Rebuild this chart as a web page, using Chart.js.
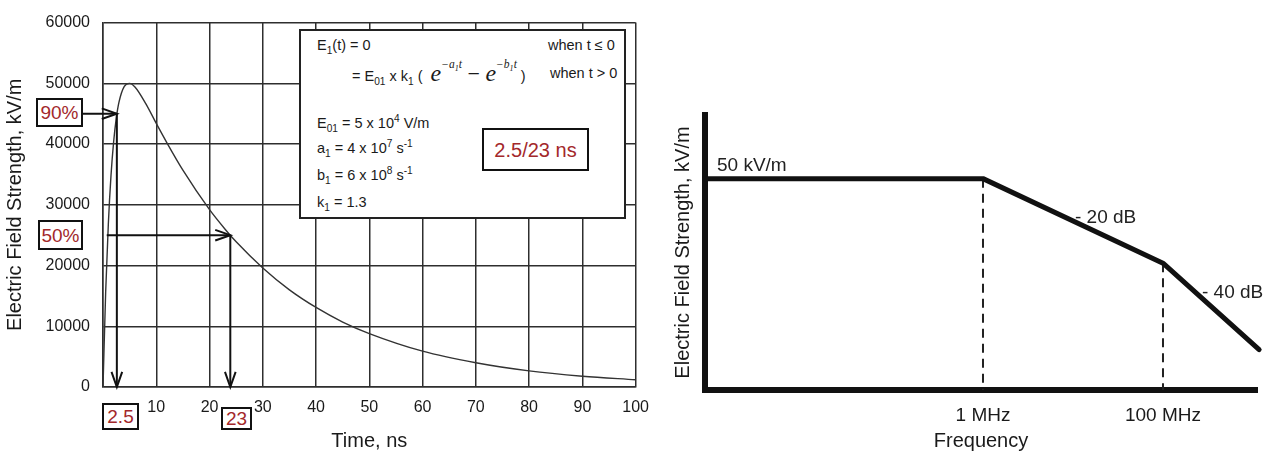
<!DOCTYPE html>
<html>
<head>
<meta charset="utf-8">
<script src="https://cdn.jsdelivr.net/npm/chart.js@4.4.0/dist/chart.umd.min.js"></script>
<style>
  body { margin: 0; background: #fff; font-family: "Liberation Sans", Arial, sans-serif; color: #222; }
  #page { position: relative; width: 1280px; height: 462px; overflow: hidden; }
  .wrap { position: absolute; top: 0; height: 462px; }
  #left { left: 0; width: 660px; }
  #right { left: 660px; width: 620px; }
  .tag { position: absolute; box-sizing: border-box; border: 2px solid #111; background: #fff; color: #a3282b;
         font-size: 19px; line-height: 1; display: flex; align-items: center; justify-content: center; }
  .note { position: absolute; font-size: 19px; line-height: 1; color: #222; white-space: nowrap; }
  #formula { position: absolute; left: 299px; top: 29px; width: 327px; height: 190px; box-sizing: border-box;
             border: 2px solid #222; background: #fff; font-size: 14.5px; color: #1a1a1a; }
  #formula div { position: absolute; white-space: nowrap; line-height: 16px; }
  sub, sup { font-size: 70%; line-height: 0; }
  .e { font-family: "Liberation Serif", "Times New Roman", serif; font-style: italic; font-size: 24px; }
  .e sup { font-size: 48%; vertical-align: 1.1em; }
  .minus { font-family: "Liberation Serif", "Times New Roman", serif; font-size: 22px; }
</style>
</head>
<body>
<div id="page">
  <div class="wrap" id="left"><canvas id="pulseChart"></canvas></div>
  <div class="wrap" id="right"><canvas id="spectrumChart"></canvas></div>

  <div id="formula">
    <div style="left:16px; top:6px;">E<sub>1</sub>(t) = 0</div>
    <div style="left:247px; top:6px;">when t ≤ 0</div>
    <div style="left:51px; top:30px; line-height:24px;">= E<sub>01</sub> x k<sub>1</sub> (&nbsp;&nbsp;<span class="e">e<sup>−a<sub>1</sub>t</sup></span><span class="minus"> − </span><span class="e">e<sup>−b<sub>1</sub>t</sup></span> )</div>
    <div style="left:249px; top:34px;">when t &gt; 0</div>
    <div style="left:16px; top:84px;">E<sub>01</sub> = 5 x 10<sup>4</sup> V/m</div>
    <div style="left:16px; top:109px;">a<sub>1</sub> = 4 x 10<sup>7</sup> s<sup>-1</sup></div>
    <div style="left:16px; top:136px;">b<sub>1</sub> = 6 x 10<sup>8</sup> s<sup>-1</sup></div>
    <div style="left:16px; top:163px;">k<sub>1</sub> = 1.3</div>
  </div>
  <div class="tag" style="left:482px; top:128px; width:107px; height:43px; font-size:20px;">2.5/23 ns</div>

  <div class="tag" style="left:36px; top:98px; width:47px; height:29px;">90%</div>
  <div class="tag" style="left:38px; top:220px; width:45px; height:30px;">50%</div>
  <div class="tag" style="left:102px; top:403px; width:37px; height:27px;">2.5</div>
  <div class="tag" style="left:221px; top:407px; width:31px; height:23px;">23</div>

  <div class="note" style="left:717px; top:155px;">50 kV/m</div>
  <div class="note" style="left:1075px; top:207px;">- 20 dB</div>
  <div class="note" style="left:1202px; top:282px;">- 40 dB</div>
</div>

<script>
// pulse
const timeNs = [0, 0.5, 1, 1.5, 2, 2.5, 3, 4, 5, 6, 8, 10, 12, 15, 20, 23, 25, 30, 35, 40, 45, 50, 60, 70, 80, 90, 100];
const fieldKV = [0, 15600, 26800, 34800, 40400, 44300, 46900, 49500, 50000, 49400, 46700, 43400, 40200, 35700,
                 29200, 25900, 23900, 19600, 16000, 13100, 10700, 8800, 5900, 4000, 2650, 1780, 1190];
const timeTickLabels = ['', '10', '20', '30', '40', '50', '60', '70', '80', '90', '100'];
const fieldTickLabels = ['0', '10000', '20000', '30000', '40000', '50000', '60000'];

// 90% / 50% markers (time in ns, field in kV/m)
const markerArrows = [
    { from: [-4.5, 45000], to: [2.6, 45000] },
    { from: [2.6, 45000], to: [2.6, 0] },
    { from: [0.7, 25000], to: [23.9, 25000] },
    { from: [23.9, 25000], to: [23.9, 0] }
];

// spectrum envelope, right plot
const freqHz = [815, 1e6, 1e8, 1.17e9];
const spectrumKV = [50, 50, 0.5, 0.0045];
const freqTicks = [1e6, 1e8];
const freqTickLabels = ['1 MHz', '100 MHz'];
const cornerLevels = [50, 0.5];

Chart.defaults.font.family = '"Liberation Sans", Arial, sans-serif';
Chart.defaults.color = '#1a1a1a';
Chart.defaults.animation = false;

const arrowPlugin = {
    id: 'arrows',
    afterDatasetsDraw(chart) {
        const ctx = chart.ctx;
        const xs = chart.scales.x, ys = chart.scales.y;
        ctx.save();
        ctx.strokeStyle = '#111';
        ctx.lineWidth = 2;
        markerArrows.forEach(function (a) {
            const x1 = xs.getPixelForValue(a.from[0]), y1 = ys.getPixelForValue(a.from[1]);
            const x2 = xs.getPixelForValue(a.to[0]), y2 = ys.getPixelForValue(a.to[1]);
            ctx.beginPath();
            ctx.moveTo(x1, y1);
            ctx.lineTo(x2, y2);
            ctx.stroke();
            const ang = Math.atan2(y2 - y1, x2 - x1);
            const len = 16, spread = 0.34;
            ctx.beginPath();
            ctx.moveTo(x2 - len * Math.cos(ang - spread), y2 - len * Math.sin(ang - spread));
            ctx.lineTo(x2, y2);
            ctx.lineTo(x2 - len * Math.cos(ang + spread), y2 - len * Math.sin(ang + spread));
            ctx.stroke();
        });
        ctx.restore();
    }
};

new Chart(document.getElementById('pulseChart'), {
    type: 'line',
    data: {
        datasets: [{
            data: timeNs.map((t, i) => ({ x: t, y: fieldKV[i] })),
            borderColor: '#333',
            borderWidth: 1.4,
            pointRadius: 0,
            cubicInterpolationMode: 'monotone'
        }]
    },
    options: {
        responsive: true,
        maintainAspectRatio: false,
        layout: { padding: { top: 22, right: 24, left: 0, bottom: 0 } },
        plugins: { legend: { display: false }, tooltip: { enabled: false } },
        scales: {
            x: {
                type: 'linear',
                min: 0,
                max: 100,
                ticks: {
                    stepSize: 10,
                    padding: 11,
                    maxRotation: 0,
                    font: { size: 16 },
                    callback: (v, i) => timeTickLabels[i]
                },
                grid: { color: '#2e2e2e', lineWidth: 1.5, drawTicks: false },
                border: { color: '#2e2e2e', width: 1.5 },
                title: { display: true, text: 'Time, ns', font: { size: 20 }, padding: { top: 0, bottom: 9 } },
                afterFit: s => { s.height = 75; }
            },
            y: {
                min: 0,
                max: 60000,
                ticks: {
                    stepSize: 10000,
                    padding: 13,
                    font: { size: 16 },
                    callback: (v, i) => fieldTickLabels[i]
                },
                grid: { color: '#2e2e2e', lineWidth: 1.5, drawTicks: false },
                border: { color: '#2e2e2e', width: 1.5 },
                title: { display: true, text: 'Electric Field Strength, kV/m', font: { size: 20 }, padding: { top: 3, bottom: 0 } },
                afterFit: s => { s.width = 103; }
            }
        }
    },
    plugins: [arrowPlugin]
});

new Chart(document.getElementById('spectrumChart'), {
    type: 'line',
    data: {
        datasets: [{
            data: freqHz.map((f, i) => ({ x: f, y: spectrumKV[i] })),
            borderColor: '#111',
            borderWidth: 5,
            borderJoinStyle: 'round',
            borderCapStyle: 'round',
            pointRadius: 0,
            clip: false
        }].concat(freqTicks.map((f, i) => ({
            data: [{ x: f, y: cornerLevels[i] }, { x: f, y: 5e-4 }],
            borderColor: '#222',
            borderWidth: 2,
            borderDash: [9, 6],
            pointRadius: 0
        })))
    },
    options: {
        responsive: true,
        maintainAspectRatio: false,
        layout: { padding: { top: 115, right: 23, left: 0, bottom: 0 } },
        plugins: { legend: { display: false }, tooltip: { enabled: false } },
        scales: {
            x: {
                type: 'logarithmic',
                min: 815,
                max: 1.108e9,
                afterBuildTicks: s => { s.ticks = freqTicks.map(v => ({ value: v })); },
                ticks: {
                    autoSkip: false,
                    maxRotation: 0,
                    padding: 6,
                    font: { size: 19 },
                    callback: (v, i) => freqTickLabels[i]
                },
                grid: { display: false },
                border: { color: '#111', width: 6 },
                title: { display: true, text: 'Frequency', font: { size: 20 }, padding: { top: 0, bottom: 9 } },
                afterFit: s => { s.height = 72; }
            },
            y: {
                type: 'logarithmic',
                min: 5e-4,
                max: 1600,
                ticks: { display: false },
                grid: { display: false },
                border: { color: '#111', width: 6 },
                title: { display: true, text: 'Electric Field Strength, kV/m', font: { size: 20 }, padding: { top: 11, bottom: 0 } },
                afterFit: s => { s.width = 45; }
            }
        }
    }
});
</script>
</body>
</html>
